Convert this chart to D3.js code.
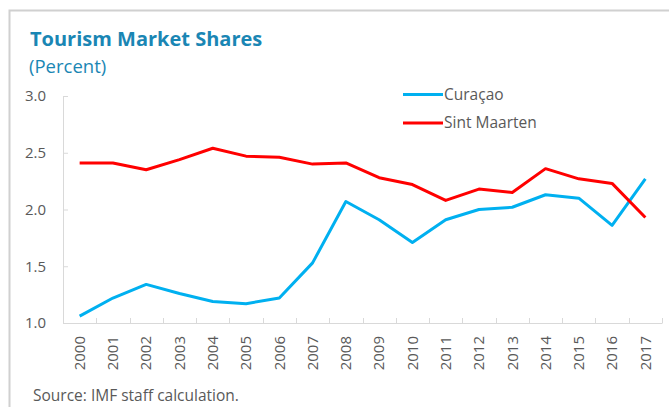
<!DOCTYPE html>
<html>
<head>
<meta charset="utf-8">
<script src="https://cdn.jsdelivr.net/npm/d3@7"></script>
<style>
  body { margin: 0; background: #fff; }
  svg { display: block; font-family: "Open Sans", "Noto Sans", sans-serif; }
</style>
</head>
<body>
<svg id="chart" width="669" height="407"></svg>
<script>
var years = ["2000","2001","2002","2003","2004","2005","2006","2007","2008",
             "2009","2010","2011","2012","2013","2014","2015","2016","2017"];
var curacao = [1.06, 1.22, 1.34, 1.26, 1.19, 1.17, 1.22, 1.53, 2.07,
               1.91, 1.71, 1.91, 2.00, 2.02, 2.13, 2.10, 1.86, 2.27];
var sintMaarten = [2.41, 2.41, 2.35, 2.44, 2.54, 2.47, 2.46, 2.40, 2.41,
                   2.28, 2.22, 2.08, 2.18, 2.15, 2.36, 2.27, 2.23, 1.93];
var yTicks = [1.0, 1.5, 2.0, 2.5, 3.0];

var series = [
  {name: "Curaçao", values: curacao, color: "#00b0f0"},
  {name: "Sint Maarten", values: sintMaarten, color: "#ff0000"}
];

var svg = d3.select("#chart");
var axisColor = "#d9d9d9", textColor = "#595959";

// outer frame (top + left only are visible)
svg.append("path")
    .attr("d", "M9.5,407 L9.5,10.5 L669,10.5")
    .attr("fill", "none")
    .attr("stroke", "#d0d0d0")
    .attr("stroke-width", 2);

svg.append("text")
    .attr("x", 30).attr("y", 46)
    .attr("font-size", 20).attr("font-weight", "bold")
    .attr("fill", "#1a86b4")
    .text("Tourism Market Shares");

svg.append("text")
    .attr("x", 29).attr("y", 73)
    .attr("font-size", 18.5)
    .attr("fill", "#1a86b4")
    .text("(Percent)");

var x = d3.scaleBand().domain(years).range([63, 662]);
var y = d3.scaleLinear().domain([1, 3]).range([323, 96]);

// y axis
var yAxis = svg.append("g")
    .attr("transform", "translate(63,0)")
    .call(d3.axisRight(y).tickValues(yTicks).tickSize(5).tickFormat(d3.format(".1f")));
yAxis.select(".domain").attr("stroke", axisColor).attr("d", "M5,96.5H0.5V323");
yAxis.selectAll(".tick line").attr("stroke", axisColor);
yAxis.selectAll(".tick text")
    .attr("x", -17).attr("text-anchor", "end")
    .attr("fill", textColor).attr("font-size", 15)
    .attr("font-family", "\"Open Sans\", sans-serif");

// x axis
var xAxis = svg.append("g")
    .attr("transform", "translate(0,323)")
    .call(d3.axisBottom(x).tickSize(0));
xAxis.select(".domain").attr("stroke", axisColor).attr("d", "M63,0.5H662.5");
xAxis.selectAll(".tick line").remove();
xAxis.selectAll(".edge")
    .data(years.slice(1).concat(["end"]))
    .enter().append("line")
    .attr("x1", function(d, i) { return Math.round(63 + x.step() * (i + 1)) + 0.5; })
    .attr("x2", function(d, i) { return Math.round(63 + x.step() * (i + 1)) + 0.5; })
    .attr("y1", 0).attr("y2", -5)
    .attr("stroke", axisColor);
xAxis.selectAll(".tick text")
    .attr("transform", "rotate(-90)")
    .attr("x", -13).attr("y", 0).attr("dy", "0.35em")
    .attr("text-anchor", "end")
    .attr("fill", textColor).attr("font-size", 15)
    .attr("font-family", "\"Open Sans\", sans-serif");

var line = d3.line()
    .x(function(d, i) { return x(years[i]) + x.bandwidth() / 2; })
    .y(function(d) { return y(d); });

svg.selectAll(".series")
    .data(series)
    .enter().append("path")
    .attr("class", "series")
    .attr("d", function(d) { return line(d.values); })
    .attr("fill", "none")
    .attr("stroke", function(d) { return d.color; })
    .attr("stroke-width", 3)
    .attr("stroke-linejoin", "round");

// legend
var legend = svg.selectAll(".legend")
    .data(series)
    .enter().append("g")
    .attr("class", "legend")
    .attr("transform", function(d, i) { return "translate(403," + (94.5 + i * 28.5) + ")"; });
legend.append("line")
    .attr("x1", 0).attr("x2", 40)
    .attr("stroke", function(d) { return d.color; })
    .attr("stroke-width", 3);
legend.append("text")
    .attr("x", 41).attr("dy", "0.35em")
    .attr("font-size", 15.5).attr("fill", textColor)
    .text(function(d) { return d.name; });

svg.append("text")
    .attr("x", 33).attr("y", 401)
    .attr("font-size", 15.5).attr("fill", textColor)
    .text("Source: IMF staff calculation.");
</script>
</body>
</html>
